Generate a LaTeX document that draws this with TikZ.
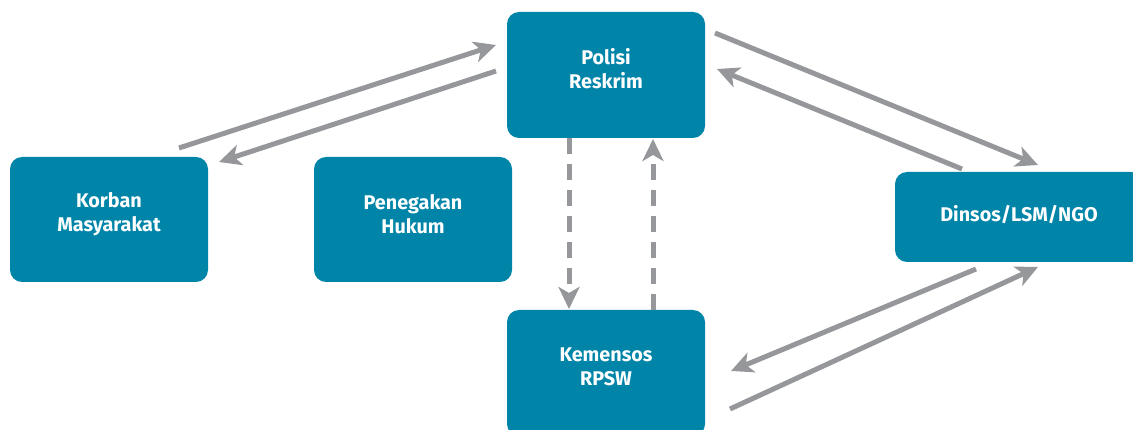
\documentclass[tikz,border=0pt]{standalone}
\usepackage{fontspec}
\setmainfont{Fira Sans}
\usetikzlibrary{arrows.meta}
\definecolor{boxblue}{RGB}{0,133,169}
\definecolor{arrgray}{RGB}{150,151,155}
\begin{document}
\begin{tikzpicture}[x=1pt,y=-1pt,
  box/.style={fill=boxblue, draw=none, rounded corners=12pt, inner sep=0pt},
  txt/.style={text=white, align=center, font=\fontsize{19.8}{24}\selectfont\bfseries, inner sep=0pt},
  conn/.style={draw=arrgray, line width=5pt, -{Stealth[length=22pt, width=21pt, inset=6pt]}},
  dconn/.style={conn, dash pattern=on 16pt off 10pt}]
\useasboundingbox (0,0) rectangle (1133,430);
\clip (0,0) rectangle (1133,430);
% boxes
\node[box, minimum width=198pt, minimum height=126pt] (polisi) at (606,75) {};
\node[box, minimum width=198pt, minimum height=125pt] (korban) at (109,219.5) {};
\node[box, minimum width=198pt, minimum height=125pt] (penegak) at (413,219.5) {};
\node[box, minimum width=248pt, minimum height=90pt] (dinsos) at (1019,217) {};
\node[box, minimum width=198pt, minimum height=126pt] (kemensos) at (606,373) {};
% texts
\node[txt] (polisiT) at (606,69) {Polisi\\Reskrim};
\node[txt] (korbanT) at (109,214) {Korban\\Masyarakat};
\node[txt] (penegakT) at (413,214) {Penegakan\\Hukum};
\node[txt] (dinsosT) at (1019,215) {Dinsos/LSM/NGO};
\node[txt] (kemensosT) at (606,367) {Kemensos\\RPSW};
% connector end points
\coordinate (k1) at (179,148);
\coordinate (p1) at (496,45);
\coordinate (p2) at (496,71);
\coordinate (k2) at (219,162);
\coordinate (p3) at (715,33);
\coordinate (d1) at (1038,165);
\coordinate (d2) at (962,169);
\coordinate (p4) at (717,69);
\coordinate (d3) at (976,269);
\coordinate (m1) at (731,371);
\coordinate (m2) at (730,409);
\coordinate (d4) at (1038,267);
\coordinate (pd) at (569,138);
\coordinate (md) at (569,309);
\coordinate (mu) at (653,310);
\coordinate (pu) at (653,139);
% connectors
\draw[conn] (k1) -- (p1);
\draw[conn] (p2) -- (k2);
\draw[conn] (p3) -- (d1);
\draw[conn] (d2) -- (p4);
\draw[conn] (d3) -- (m1);
\draw[conn] (m2) -- (d4);
\draw[dconn] (pd) -- (md);
\draw[dconn] (mu) -- (pu);
\end{tikzpicture}
\end{document}
